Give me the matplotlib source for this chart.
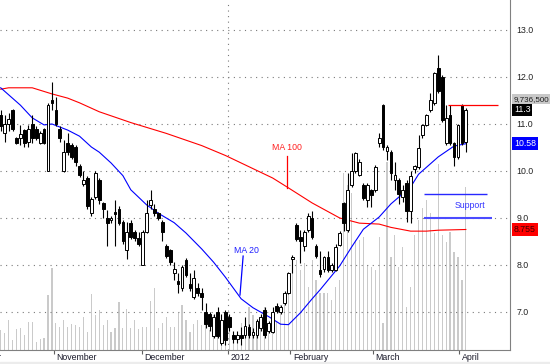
import matplotlib.pyplot as plt
from matplotlib.patches import Rectangle
import numpy as np

# daily candles, mid Oct 2011 .. early Apr 2012 (left to right)
opens = [11.2, 10.8, 11.0, 11.3, 10.7, 10.7, 10.87, 10.62, 11.0, 10.9,
         10.6, 10.9, 10.0, 11.5, 11.3, 10.9, 10.0, 10.59, 10.55, 10.5,
         10.1, 9.72, 9.85, 9.1, 9.45, 9.8, 9.31, 8.99, 8.95, 9.12,
         9.2, 8.92, 8.32, 8.9, 8.7, 8.57, 8.0, 8.71, 9.28, 9.2,
         9.1, 8.92, 8.4, 8.32, 7.82, 7.65, 7.5, 8.1, 7.6, 7.31,
         7.5, 7.4, 7.0, 6.95, 6.49, 7.0, 6.35, 7.0, 6.9, 6.5,
         6.42, 6.51, 6.5, 6.69, 6.51, 6.5, 6.65, 7.05, 6.6, 6.58,
         7.13, 7.0, 7.2, 7.4, 8.12, 8.85, 8.6, 8.4, 8.75, 9.0,
         8.4, 7.9, 7.91, 8.18, 7.9, 7.9, 8.43, 9.31, 8.75, 9.7,
         10.0, 9.92, 9.7, 9.38, 9.6, 9.6, 10.6, 11.4, 10.43, 10.4,
         9.81, 9.8, 9.45, 9.75, 9.15, 10.05, 10.09, 10.77, 10.98, 11.3,
         11.44, 12.2, 12.0, 10.59, 11.19, 10.59, 10.3, 11.4, 10.62]
closes = [10.95, 11.0, 11.1, 10.9, 10.6, 10.79, 10.6, 10.9, 10.7, 10.7,
          10.8, 10.6, 11.4, 11.45, 11.0, 10.7, 10.4, 10.41, 10.3, 10.2,
          9.92, 9.8, 9.25, 9.4, 9.95, 9.38, 9.2, 8.9, 9.0, 9.08,
          8.89, 8.5, 8.71, 8.6, 8.57, 8.45, 8.71, 9.1, 9.38, 9.1,
          9.0, 8.71, 8.2, 8.07, 7.91, 7.6, 7.95, 7.79, 7.5, 7.72,
          7.4, 7.31, 6.75, 6.7, 6.9, 6.49, 6.83, 6.4, 6.69, 6.42,
          6.5, 6.44, 6.7, 6.5, 6.58, 6.8, 6.9, 6.51, 6.77, 7.0,
          7.02, 7.11, 7.4, 7.82, 8.18, 8.55, 8.5, 8.7, 9.05, 8.6,
          8.2, 7.8, 8.18, 7.9, 8.0, 8.39, 8.69, 8.9, 9.6, 9.99,
          10.38, 10.2, 9.42, 9.7, 9.49, 10.09, 10.7, 10.5, 10.5, 9.95,
          9.92, 9.5, 9.6, 9.15, 9.9, 10.1, 10.48, 10.98, 11.19, 11.5,
          12.08, 11.7, 11.08, 11.12, 10.6, 10.3, 10.98, 10.59, 11.3]
highs = [11.3, 11.2, 11.23, 11.32, 10.72, 10.98, 10.9, 10.98, 11.2, 10.95,
         10.85, 10.92, 11.45, 11.9, 11.58, 10.95, 10.66, 10.8, 10.6, 10.55,
         10.15, 10.0, 9.9, 9.45, 10.0, 9.85, 9.35, 9.17, 9.05, 9.38,
         9.25, 8.95, 8.92, 8.95, 8.75, 8.7, 8.75, 9.38, 9.6, 9.3,
         9.12, 8.95, 8.45, 8.35, 8.07, 7.82, 8.0, 8.15, 7.82, 7.9,
         7.62, 7.5, 7.2, 7.0, 6.95, 7.1, 6.95, 7.05, 6.95, 6.6,
         6.6, 6.69, 6.9, 6.75, 6.65, 6.85, 6.95, 7.11, 6.8, 7.11,
         7.2, 7.15, 7.45, 7.85, 8.21, 8.9, 8.75, 8.75, 9.1, 9.15,
         8.45, 8.3, 8.2, 8.3, 8.05, 8.45, 8.72, 9.35, 9.95, 10.38,
         10.4, 10.25, 9.75, 9.75, 9.62, 10.12, 10.8, 11.42, 10.55, 10.45,
         10.2, 9.85, 9.7, 9.8, 10.0, 10.12, 10.77, 11.0, 11.22, 11.65,
         12.1, 12.47, 12.05, 11.4, 11.4, 10.62, 11.0, 11.42, 11.35]
lows = [10.85, 10.62, 10.85, 10.85, 10.58, 10.55, 10.5, 10.5, 10.6, 10.65,
        10.58, 10.58, 10.0, 11.3, 10.95, 10.62, 9.98, 10.34, 10.25, 10.1,
        9.88, 9.68, 9.2, 9.05, 9.4, 9.3, 9.0, 8.4, 8.9, 8.4,
        8.85, 8.45, 8.12, 8.55, 8.5, 8.4, 8.0, 8.68, 9.2, 9.05,
        8.95, 8.5, 8.15, 8.0, 7.68, 7.4, 7.45, 7.75, 7.45, 7.28,
        7.35, 7.05, 6.65, 6.6, 6.45, 6.45, 6.3, 6.3, 6.6, 6.35,
        6.35, 6.3, 6.45, 6.45, 6.45, 6.45, 6.6, 6.45, 6.55, 6.55,
        6.98, 6.95, 7.15, 7.38, 7.82, 8.5, 8.05, 8.3, 8.7, 8.55,
        8.15, 7.75, 7.85, 7.85, 7.85, 7.88, 8.4, 8.72, 8.7, 9.65,
        9.95, 9.9, 9.38, 9.24, 9.24, 9.55, 10.5, 10.45, 10.23, 9.8,
        9.6, 9.3, 9.35, 8.92, 8.9, 9.95, 10.05, 10.7, 10.95, 11.25,
        11.4, 11.65, 11.05, 10.55, 10.55, 10.1, 10.25, 10.55, 10.41]
# volume, millions of shares
volume_m = [1.19,
            1.01, 1.79, 0.60, 1.25, 1.31, 0.90, 1.67, 1.67, 0.48, 0.66,
            0.72, 3.28, 4.90, 1.61, 1.37, 1.79, 1.37, 1.55, 1.49, 1.37,
            1.97, 1.07, 3.34, 2.09, 2.39, 1.49, 1.79, 1.07, 1.31, 2.87,
            1.31, 2.45, 1.31, 1.79, 1.25, 1.37, 1.37, 2.93, 3.70, 1.31,
            1.61, 1.97, 1.37, 1.37, 2.21, 2.69, 1.79, 1.07, 1.55, 1.79,
            1.49, 1.79, 1.19, 2.09, 1.67, 1.31, 2.27, 1.79, 0.90, 0.72,
            1.61, 1.01, 2.57, 2.09, 1.37, 1.61, 2.57, 1.49, 1.97, 1.67,
            2.69, 3.40, 3.76, 4.60, 5.37, 4.78, 5.19, 3.76, 5.37, 4.18,
            3.40, 3.40, 3.40, 2.99, 3.76, 4.18, 10.57, 9.85, 9.37,
            6.57, 6.57, 6.75, 5.07, 4.96, 4.78, 6.75, 1.61, 11.22, 5.55,
            6.87, 4.96, 6.15, 2.57, 3.76, 6.87, 7.76, 8.48, 8.96, 8.18,
            6.98, 11.10, 6.87, 6.45, 7.04, 5.85, 5.55, 4.18, 9.7365]

ma20_days = [0, 5, 8, 11, 13, 17, 20, 23, 25, 28, 31, 33, 36, 37, 40, 44, 47, 51, 54,
             57, 61, 64, 68, 71, 73, 76, 79, 81, 86, 89, 92, 96, 99, 104, 106, 111, 115, 118]
ma20 = [11.77, 11.40, 11.13, 10.98, 11.0, 10.87, 10.74, 10.51, 10.40, 10.17, 9.9, 9.6,
        9.36, 9.28, 9.10, 8.9, 8.68, 8.34, 8.06, 7.74, 7.28, 7.09, 6.90, 6.74, 6.73, 6.98,
        7.28, 7.47, 7.98, 8.38, 8.76, 9.02, 9.30, 9.66, 9.93, 10.30, 10.53, 10.58]
ma100_days = [0, 2, 8, 13, 17, 20, 25, 33, 42, 51, 57, 69, 73, 79, 86, 91, 96, 99,
              104, 108, 111, 118]
ma100 = [11.74, 11.77, 11.77, 11.64, 11.55, 11.45, 11.26, 11.03, 10.80, 10.54, 10.33,
         9.85, 9.64, 9.32, 9.0, 8.89, 8.87, 8.80, 8.72, 8.72, 8.74, 8.755]

month_labels = ['October', 'November', 'December', '2012', 'February', 'March', 'April']
month_pos = [-8.3, 13.5, 35.8, 57.6, 73.4, 94.4, 116.2]
price_ticks = [7.0, 8.0, 9.0, 10.0, 11.0, 12.0, 13.0]
last_volume = 9736500
resistance = 11.4
support_levels = [9.5, 9.0]

plt.rcParams['font.family'] = ['Liberation Sans', 'DejaVu Sans']

fig = plt.figure(figsize=(5.5, 3.64), dpi=100)
rect = [0, 14 / 364, 510 / 550, 350 / 364]
vax = fig.add_axes(rect)
ax = fig.add_axes(rect)
ax.patch.set_visible(False)

days = np.arange(len(closes))
xlim = (-0.18, 129.2)

# volume underneath
vax.bar(days, volume_m, width=0.3, color='#cacaca', linewidth=0)
vax.set_xlim(*xlim)
vax.set_ylim(0, 20.9)
vax.axis('off')

ax.set_xlim(*xlim)
ax.set_ylim(6.191, 13.638)
for y in price_ticks:
    ax.axhline(y, color='#7a7a7a', lw=0.8, ls=(0, (1, 4)), zorder=1)
ax.axvline(month_pos[3], color='#7a7a7a', lw=0.8, ls=(0, (1, 4)), zorder=1)

ax.plot(ma100_days, ma100, color='#ff0000', lw=0.8, zorder=2)
ax.plot(ma20_days, ma20, color='#0000ff', lw=0.8, zorder=2)

o = np.array(opens)
c = np.array(closes)
up = c >= o
ax.vlines(days, lows, highs, color='black', lw=0.8, zorder=3)
ax.bar(days, c - o, bottom=o, width=0.7,
       color=np.where(up, 'white', 'black'), edgecolor='black',
       linewidth=0.7, zorder=4)

# annotations
ax.text(72.6, 10.49, 'MA 100', color='#ff2020', fontsize=6.3, ha='center', va='center')
ax.plot([72.6, 72.6], [10.32, 9.64], color='#ff0000', lw=0.9)
ax.text(62.3, 8.30, 'MA 20', color='#2020ff', fontsize=6.3, ha='center', va='center')
ax.plot([61.5, 60.7], [8.19, 7.36], color='#0000ff', lw=0.9)
ax.hlines(resistance, 113.4, 126.1, color='#ff0000', lw=0.9, zorder=5)
ax.hlines(support_levels[0], 107.4, 123.3, color='#2828ff', lw=1.0, zorder=5)
ax.hlines(support_levels[1], 107.4, 124.6, color='#4c4cff', lw=1.5, zorder=5)
ax.text(119, 9.255, 'Support', color='#3333ff', fontsize=6.3, ha='center', va='center')

# axes styling
for s in ['top', 'left']:
    ax.spines[s].set_visible(False)
for s in ['right', 'bottom']:
    ax.spines[s].set_color('#808080')
    ax.spines[s].set_linewidth(0.8)

ax.yaxis.tick_right()
ax.set_yticks(price_ticks)
ax.set_yticklabels([f'{t:.1f}' for t in price_ticks])
ax.tick_params(axis='y', length=0, pad=4.5, labelsize=6.3, labelcolor='#222222')

ax.set_xticks(month_pos[1:])
ax.set_xticklabels([])
ax.tick_params(axis='x', length=3, width=0.8, color='#606060', direction='out')
for lab, pos in zip(month_labels, month_pos):
    ax.text(pos + 0.7, -0.022, lab, transform=ax.get_xaxis_transform(),
            ha='left', va='center', fontsize=6.3, color='#1a1a2a', clip_on=False)


def tag(y, s, fc, tc, size=6.3):
    ax.text(1.008, y, s, transform=ax.get_yaxis_transform(), ha='left', va='center',
            fontsize=size, color=tc, clip_on=False,
            bbox=dict(boxstyle='square,pad=0.2', fc=fc, ec='none'))


tag(11.53, f'{last_volume:,}', '#c8c8c8', '#202020', size=5.8)
tag(closes[-1], f'{closes[-1]:.1f}', 'black', 'white')
tag(ma20[-1], f'{ma20[-1]:.2f}', '#0000ff', 'white')
tag(ma100[-1], f'{ma100[-1]:.3f}', '#ff0000', '#400000')

fig.patches.append(Rectangle((0, 0), 1, 2 / 364, transform=fig.transFigure,
                             color='#ececec', zorder=0))

fig.savefig('out.png', dpi=100)
